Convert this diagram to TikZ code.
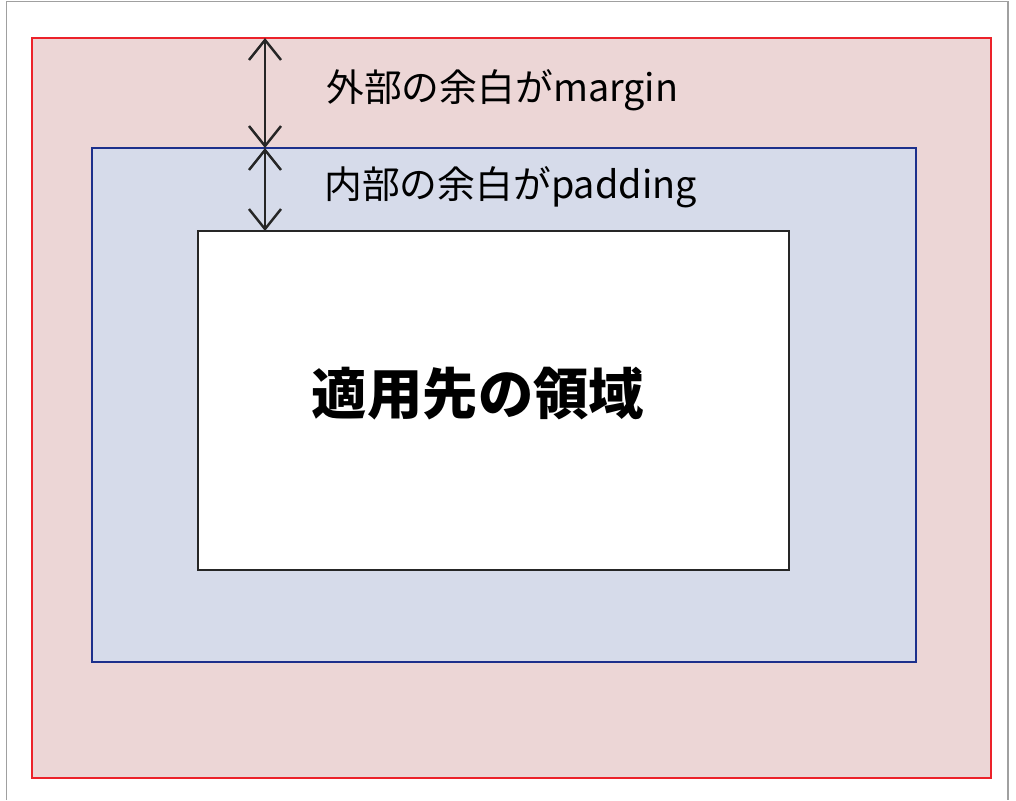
\documentclass[tikz,border=0pt]{standalone}
\usepackage{fontspec}
\setmainfont{Noto Sans CJK JP}
\usetikzlibrary{arrows.meta, positioning}
\definecolor{marginred}{RGB}{236,34,42}
\definecolor{marginfill}{RGB}{236,214,214}
\definecolor{padblue}{RGB}{28,48,140}
\definecolor{padfill}{RGB}{214,219,234}
\definecolor{framegray}{RGB}{160,160,160}
\tikzset{
  mbox/.style    = {draw=marginred, fill=marginfill, line width=1.5pt,
                    inner sep=0pt, outer sep=0pt},
  pbox/.style    = {draw=padblue, fill=padfill, line width=1.5pt,
                    inner sep=0pt, outer sep=0pt},
  cbox/.style    = {draw=black!85, fill=white, line width=1.5pt,
                    inner sep=0pt, outer sep=0pt},
  dimarrow/.style = {{Straight Barb[length=4mm,width=6.4mm]}-{Straight Barb[length=4mm,width=6.4mm]},
                    line width=1.4pt, color=black!85},
  lbl/.style     = {font=\fontsize{21.5}{24}\selectfont, anchor=west, inner sep=0pt},
}

\begin{document}
\begin{tikzpicture}[x=0.2mm, y=-0.2mm]
  \useasboundingbox (0,0) rectangle (1016,800);
  \draw[framegray, line width=0.8pt] (6.5,800) -- (6.5,1.5) -- (1008,1.5) -- (1008,800);
  \node[mbox, minimum width=191.8mm, minimum height=148mm] (marginbox) at (511.5,408) {};
  \node[pbox, minimum width=164.8mm, minimum height=102.8mm] (paddingbox) at (504,405) {};
  \node[cbox, minimum width=118.2mm, minimum height=67.8mm] (contentbox) at (493.5,400.5) {};
  \coordinate (arrowx) at (265,0);
  \draw[dimarrow] (marginbox.north -| arrowx) -- (paddingbox.north -| arrowx);
  \draw[dimarrow] (paddingbox.north -| arrowx) -- (contentbox.north -| arrowx);
  \node[lbl] (marginlbl) at (326,90) {外部の余白がmargin};
  \node[lbl] (paddinglbl) at (324,187) {内部の余白がpadding};
  \node[font=\fontsize{31.5}{36}\selectfont\bfseries] (contentlbl) at (478,394) {適用先の領域};
\end{tikzpicture}
\end{document}
